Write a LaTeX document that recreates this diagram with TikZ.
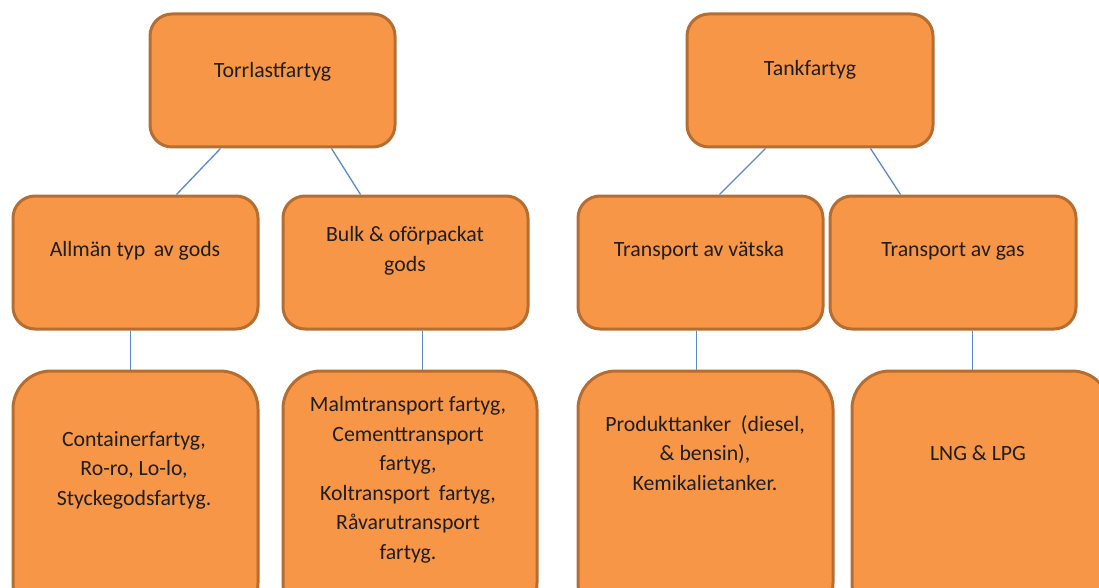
\documentclass[tikz,border=0pt]{standalone}
\usepackage{fontspec}
\setmainfont{Carlito}
\definecolor{boxfill}{HTML}{F79646}
\definecolor{boxline}{HTML}{B66D31}
\definecolor{conn}{HTML}{5B8AC6}
\definecolor{txt}{HTML}{1E1E1E}
\tikzset{
  topbox/.style={draw=boxline, fill=boxfill, line width=3pt, rounded corners=22pt, inner sep=0pt},
  lowbox/.style={draw=boxline, fill=boxfill, line width=3pt, rounded corners=38pt, inner sep=0pt},
  lbl/.style={text=txt, align=center, inner sep=0pt, font=\fontsize{21.8}{29.5}\selectfont},
  link/.style={draw=conn, line width=1.3pt}
}
\begin{document}
\begin{tikzpicture}[x=1pt,y=-1pt]
\useasboundingbox (0,0) rectangle (1099,588);
\clip (0,0) rectangle (1099,588);
% level 1
\node[topbox, minimum width=245pt, minimum height=133pt] (t1) at (272.5,80.5) {};
\node[topbox, minimum width=246pt, minimum height=133pt] (t2) at (810,80.5) {};
% level 2
\node[topbox, minimum width=245pt, minimum height=133pt] (m1) at (135.5,262.5) {};
\node[topbox, minimum width=245pt, minimum height=133pt] (m2) at (405.5,262.5) {};
\node[topbox, minimum width=245pt, minimum height=133pt] (m3) at (700.5,262.5) {};
\node[topbox, minimum width=246pt, minimum height=133pt] (m4) at (953,262.5) {};
% level 3
\node[lowbox, minimum width=245pt, minimum height=250pt] (b1) at (135.5,496) {};
\node[lowbox, minimum width=254pt, minimum height=250pt] (b2) at (410,496) {};
\node[lowbox, minimum width=255pt, minimum height=250pt] (b3) at (705.5,496) {};
\node[lowbox, minimum width=258pt, minimum height=250pt] (b4) at (981,496) {};
% connectors
\draw[link] ([xshift=72pt]t1.south west) -- ([xshift=165pt]m1.north west);
\draw[link] ([xshift=183pt]t1.south west) -- ([xshift=79pt]m2.north west);
\draw[link] ([xshift=80pt]t2.south west) -- ([xshift=143pt]m3.north west);
\draw[link] ([xshift=185pt]t2.south west) -- ([xshift=72pt]m4.north west);
\draw[link] ([xshift=119pt]m1.south west) -- ([xshift=119pt]b1.north west);
\draw[link] ([xshift=141pt]m2.south west) -- ([xshift=141pt]b2.north west);
\draw[link] ([xshift=120pt]m3.south west) -- ([xshift=120pt]b3.north west);
\draw[link] ([xshift=144pt]m4.south west) -- ([xshift=122pt]b4.north west);
% texts
\node[lbl] (t1txt) at (272.5,72) {Torrlastfartyg};
\node[lbl] (t2txt) at (810,70) {Tankfartyg};
\node[lbl] (m1txt) at (135,251) {Allmän typ\, av gods};
\node[lbl] (m2txt) at (405,251) {Bulk \& oförpackat\\gods};
\node[lbl] (m3txt) at (699,251) {Transport av vätska};
\node[lbl] (m4txt) at (953,251) {Transport av gas};
\node[lbl] (b1txt) at (134,470) {Containerfartyg,\\Ro-ro, Lo-lo,\\Styckegodsfartyg.};
\node[lbl] (b2txt) at (408,480) {Malmtransport fartyg,\\Cementtransport\\fartyg,\\Koltransport\, fartyg,\\Råvarutransport\\fartyg.};
\node[lbl] (b3txt) at (705,453) {Produkttanker\ \ (diesel,\\\& bensin),\\Kemikalietanker.};
\node[lbl] (b4txt) at (978,453) {LNG \& LPG};
\end{tikzpicture}
\end{document}
